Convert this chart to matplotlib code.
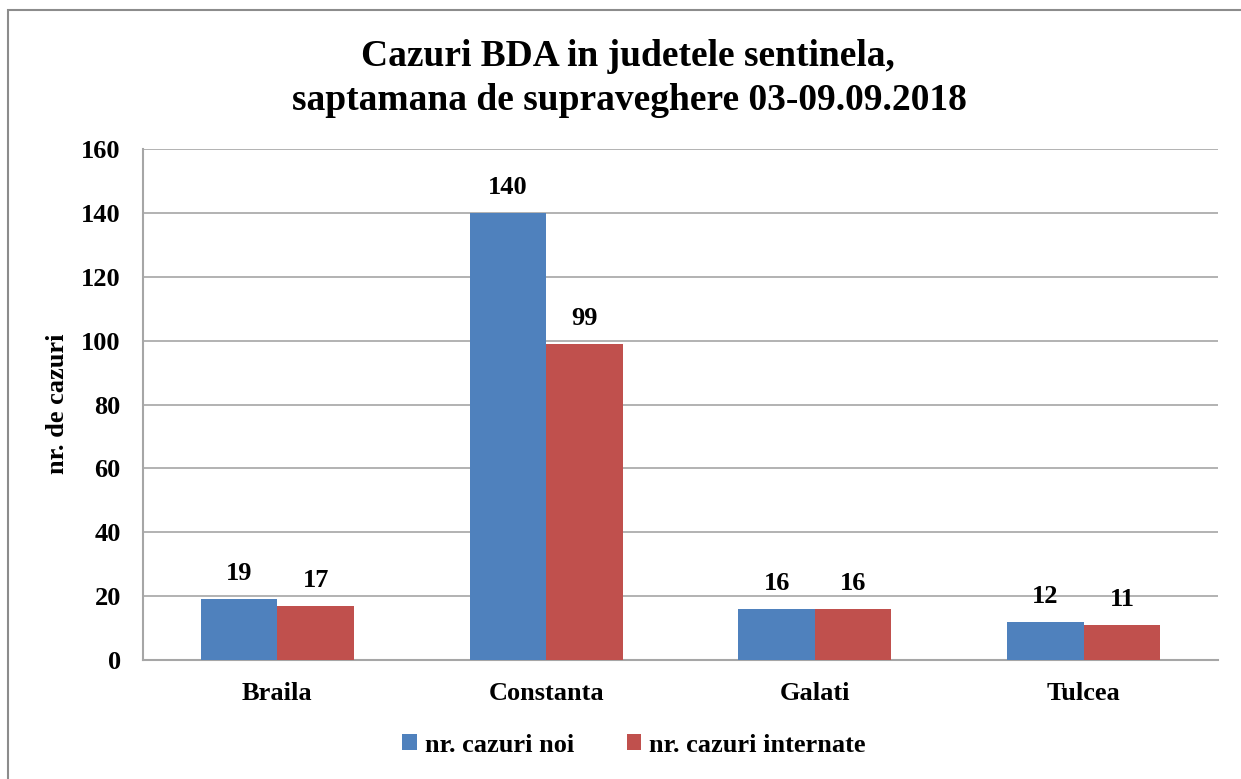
import numpy as np
import matplotlib
matplotlib.use('Agg')
from matplotlib import pyplot as plt
from matplotlib.patches import Rectangle

judete = ['Braila', 'Constanta', 'Galati', 'Tulcea']
cazuri_noi = [19, 140, 16, 12]
cazuri_internate = [17, 99, 16, 11]
yticks = [0, 20, 40, 60, 80, 100, 120, 140, 160]

plt.rcParams['font.family'] = ['Liberation Serif', 'DejaVu Serif']
plt.rcParams['font.weight'] = 'bold'

blue = '#4f81bd'
red = '#c0504d'
grid_col = '#a6a6a6'

fig = plt.figure(figsize=(12.41, 7.79), dpi=100)
W, H = 1241, 779
ax = fig.add_axes([143 / W, 1 - 660 / H, (1218 - 143) / W, (660 - 149) / H])

# outer chart border (only left/top visible in the crop)
fig.patches.append(Rectangle((8 / W, -0.1), 1.2, 1 - 10 / H + 0.1, transform=fig.transFigure,
                             fill=False, edgecolor='#8c8c8c', linewidth=1.5))

x = np.arange(len(judete))
w = 0.285
b1 = ax.bar(x - w / 2, cazuri_noi, w, color=blue, label='nr. cazuri noi', zorder=3)
b2 = ax.bar(x + w / 2, cazuri_internate, w, color=red, label='nr. cazuri internate', zorder=3)

for bars in (b1, b2):
    for r in bars:
        ax.annotate(str(int(r.get_height())), (r.get_x() + r.get_width() / 2, r.get_height()),
                    xytext=(0, 10), textcoords='offset points',
                    ha='center', va='bottom', fontsize=19, fontweight='bold')

ax.set_xlim(-0.5, len(judete) - 0.5)
ax.set_ylim(0, 160)
ax.set_yticks(yticks)
ax.set_xticks(x)
ax.set_xticklabels(judete, fontsize=19, fontweight='bold')
ax.tick_params(axis='y', labelsize=19, length=0, pad=16)
ax.tick_params(axis='x', length=0, pad=16)
ax.grid(axis='y', color=grid_col, linewidth=1.2, zorder=0)
for s in ['top', 'right']:
    ax.spines[s].set_visible(False)
for s in ['left', 'bottom']:
    ax.spines[s].set_color(grid_col)
    ax.spines[s].set_linewidth(1.5)

fig.text(57 / W, 1 - 404 / H, 'nr. de cazuri', rotation=90, ha='center', va='center',
         fontsize=19, fontweight='bold')

fig.text(628 / W, 1 - 56 / H, 'Cazuri BDA in judetele sentinela,', ha='center', va='center',
         fontsize=27, fontweight='bold')
fig.text(629 / W, 1 - 100 / H, 'saptamana de supraveghere 03-09.09.2018', ha='center', va='center',
         fontsize=27, fontweight='bold')

fig.legend(loc='center', bbox_to_anchor=(634 / W, 1 - 745 / H), ncol=2, frameon=False,
           handlelength=0.55, handleheight=0.55, handletextpad=0.3, columnspacing=2.0,
           prop={'weight': 'bold', 'size': 19})

plt.savefig('out.png', dpi=100)
